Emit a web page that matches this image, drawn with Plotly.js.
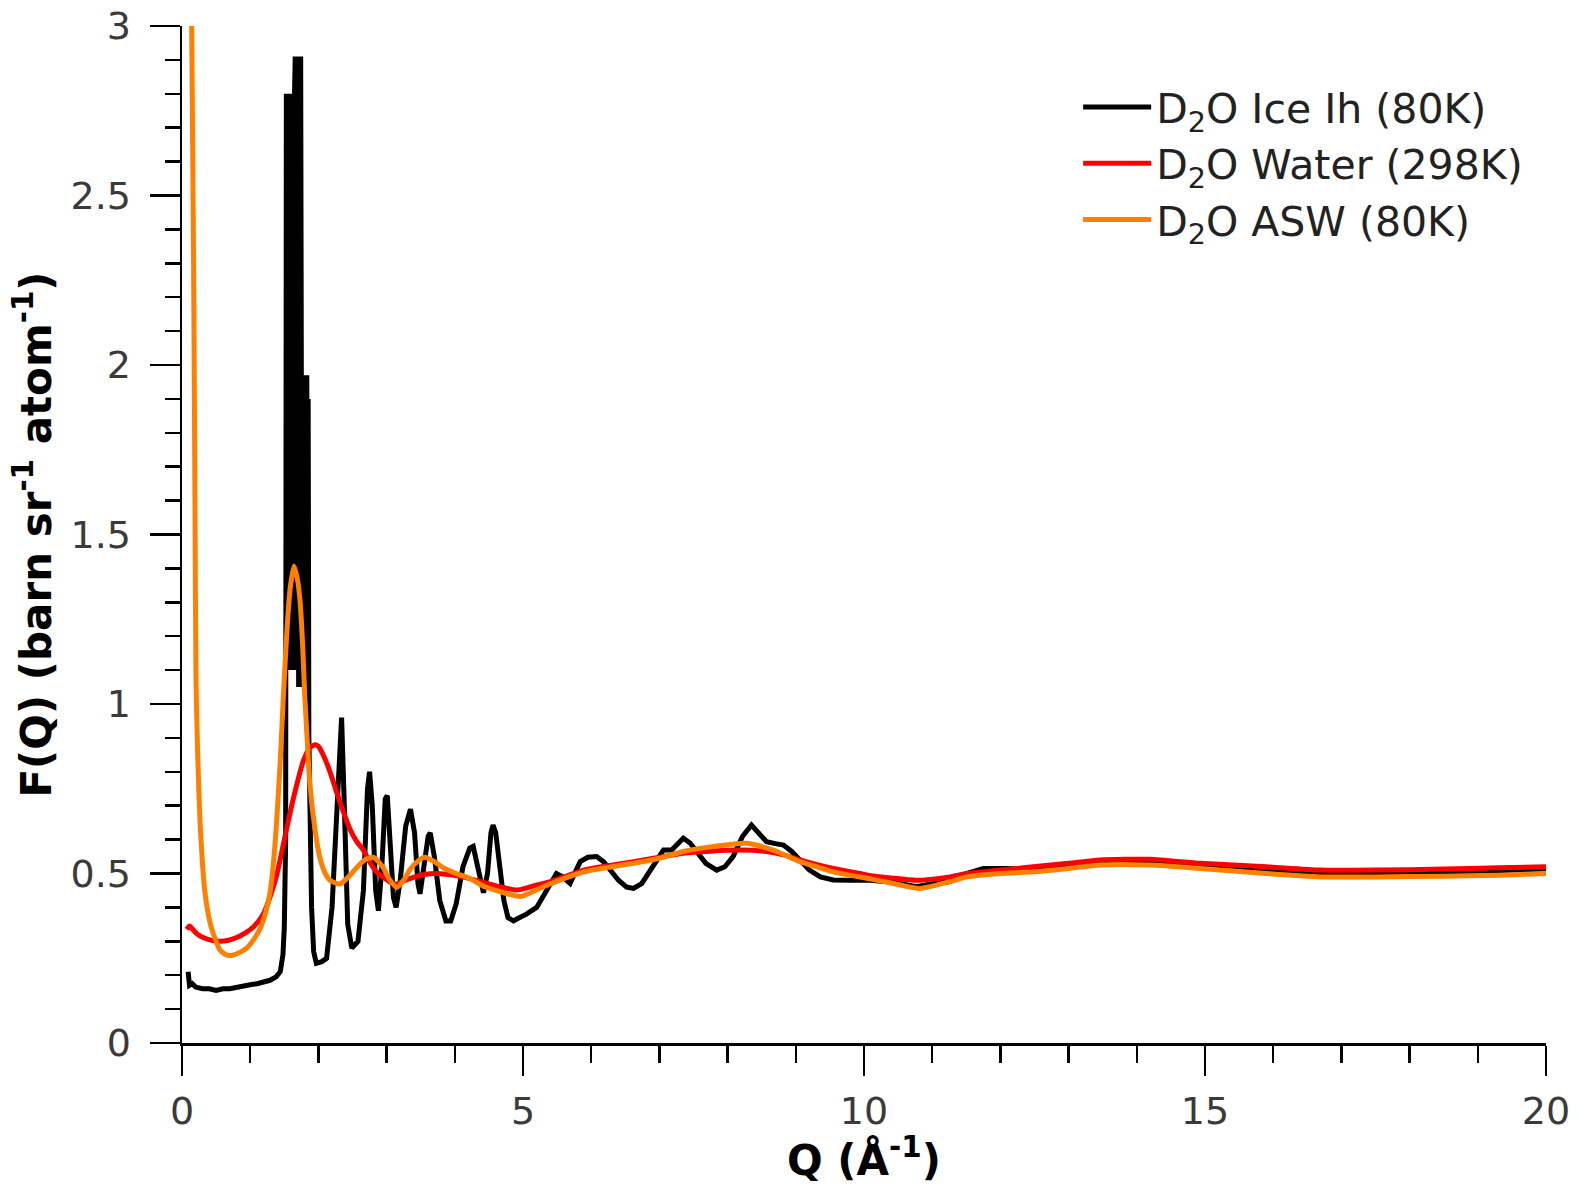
<!DOCTYPE html>
<html>
<head>
<meta charset="utf-8">
<script src="https://cdn.plot.ly/plotly-3.0.1.min.js"></script>
<style>html,body{margin:0;padding:0;background:#fff;}#chart{width:1578px;height:1185px;}</style>
</head>
<body>
<div id="chart"></div>
<script>
// D2O Ice Ih (80K)
const iceQ = [0.09,0.11,0.15,0.20,0.30,0.40,0.50,0.60,0.70,0.80,0.90,1.00,1.10,1.20,1.29,1.38,1.44,1.48,1.50,1.52,
  1.53,1.54,1.55,1.56,1.57,1.58,1.59,1.60,1.61,1.62,1.63,1.64,1.65,1.66,1.67,1.68,1.69,1.70,1.71,1.72,1.73,1.74,1.75,1.76,1.77,1.78,1.79,1.80,1.81,1.82,1.83,1.84,1.85,1.86,1.88,1.90,1.93,1.97,
  2.05,2.12,2.20,2.28,2.34,2.38,2.43,2.49,2.58,2.66,2.72,2.75,2.79,2.84,2.88,2.93,2.98,3.01,3.05,3.10,3.14,3.20,3.28,3.35,3.41,3.46,3.49,3.55,3.61,3.64,3.70,3.78,3.87,3.94,
  4.02,4.12,4.22,4.27,4.34,4.42,4.48,4.53,4.56,4.60,4.66,4.72,4.78,4.86,4.93,5.05,5.20,5.35,5.49,5.58,5.69,5.78,5.84,5.95,6.08,6.18,6.28,6.40,6.52,6.62,6.74,6.86,6.96,
  7.06,7.18,7.26,7.35,7.45,7.55,7.68,7.84,7.96,8.08,8.22,8.35,8.46,8.57,8.70,8.82,8.94,9.06,9.20,9.36,9.55,9.80,10.04,10.40,10.77,11.00,11.26,11.50,11.75,12.10,12.50,
  13.00,13.50,14.20,15.00,16.00,17.00,18.00,19.00,20.00];
const iceF = [0.21,0.17,0.175,0.165,0.16,0.16,0.155,0.16,0.16,0.165,0.17,0.172,0.175,0.18,0.185,0.195,0.21,0.26,0.34,0.60,
  2.80,1.20,2.80,1.10,2.80,1.15,2.80,1.10,2.80,1.20,2.80,1.10,2.80,2.91,1.15,2.91,1.10,2.91,1.05,2.91,1.10,2.91,1.97,1.10,1.97,1.05,1.97,1.10,1.97,1.05,1.97,1.10,1.90,0.90,0.60,0.40,0.27,0.235,
  0.24,0.25,0.40,0.75,0.96,0.70,0.35,0.28,0.30,0.45,0.75,0.80,0.70,0.45,0.39,0.52,0.72,0.73,0.60,0.43,0.40,0.48,0.64,0.69,0.62,0.47,0.44,0.52,0.61,0.62,0.55,0.42,0.36,0.36,
  0.41,0.52,0.575,0.58,0.52,0.443,0.50,0.62,0.643,0.62,0.52,0.42,0.37,0.36,0.368,0.38,0.40,0.45,0.50,0.49,0.471,0.51,0.535,0.548,0.55,0.535,0.51,0.48,0.46,0.456,0.47,0.505,0.54,
  0.569,0.569,0.585,0.604,0.59,0.565,0.53,0.51,0.52,0.55,0.61,0.643,0.62,0.594,0.588,0.584,0.565,0.54,0.51,0.49,0.481,0.48,0.481,0.475,0.461,0.47,0.476,0.50,0.515,0.515,0.51,
  0.52,0.53,0.535,0.525,0.505,0.50,0.50,0.505,0.513];

// D2O Water (298K)
const waterQ = [0.07,0.11,0.16,0.22,0.31,0.45,0.56,0.68,0.80,0.93,1.05,1.19,1.29,1.39,1.48,1.58,1.68,1.78,1.87,1.95,2.00,2.07,2.17,2.27,2.37,2.46,2.56,2.66,2.75,2.85,2.98,3.08,3.15,3.25,3.34,3.50,3.69,3.90,
  4.12,4.40,4.66,4.91,5.15,5.40,5.65,5.89,6.25,6.62,7.00,7.35,7.75,8.18,8.57,8.82,9.06,9.30,9.55,9.80,10.04,10.40,10.77,11.26,11.51,12.00,12.48,13.00,13.46,14.19,14.93,15.90,16.69,17.50,18.50,19.30,20.00];
const waterF = [0.335,0.345,0.335,0.322,0.311,0.302,0.30,0.303,0.311,0.325,0.343,0.38,0.43,0.496,0.58,0.675,0.76,0.833,0.87,0.88,0.875,0.85,0.80,0.738,0.68,0.632,0.595,0.569,0.535,0.505,0.485,0.472,0.469,0.478,0.485,0.495,0.50,0.497,
  0.49,0.475,0.461,0.451,0.463,0.476,0.493,0.51,0.523,0.535,0.548,0.56,0.566,0.569,0.565,0.555,0.54,0.527,0.515,0.505,0.496,0.487,0.48,0.49,0.50,0.51,0.52,0.53,0.54,0.542,0.53,0.52,0.51,0.51,0.513,0.517,0.52];

// D2O ASW (80K)
const aswQ = [0.13,0.142,0.17,0.19,0.205,0.23,0.264,0.30,0.337,0.385,0.435,0.50,0.557,0.63,0.704,0.82,0.948,1.05,1.144,1.22,1.29,1.34,1.388,1.44,1.486,1.54,1.584,1.642,1.69,1.73,1.77,1.80,1.84,1.877,1.95,
  2.02,2.10,2.17,2.317,2.44,2.56,2.68,2.805,2.88,2.95,3.05,3.15,3.25,3.34,3.45,3.56,3.70,3.83,4.02,4.22,4.45,4.66,4.96,5.30,5.60,5.89,6.25,6.62,7.00,7.35,7.80,8.28,8.67,9.06,9.30,9.55,
  10.04,10.40,10.82,11.26,11.51,12.00,12.48,13.00,13.46,14.19,14.93,15.90,16.69,17.50,18.50,19.30,20.00];
const aswF = [3.3,3.0,2.3,1.60,1.075,0.85,0.654,0.53,0.443,0.38,0.337,0.30,0.274,0.262,0.258,0.265,0.28,0.305,0.337,0.38,0.443,0.53,0.654,0.83,1.022,1.22,1.338,1.407,1.37,1.307,1.17,1.022,0.88,0.759,0.63,
  0.548,0.50,0.48,0.469,0.49,0.517,0.54,0.548,0.535,0.517,0.48,0.459,0.48,0.511,0.535,0.548,0.535,0.517,0.50,0.485,0.46,0.447,0.432,0.461,0.485,0.505,0.518,0.53,0.545,0.565,0.58,0.589,0.569,0.535,0.52,0.505,
  0.486,0.472,0.456,0.476,0.49,0.50,0.505,0.515,0.525,0.525,0.515,0.50,0.49,0.49,0.492,0.495,0.50];

const seriesNames = ['D<sub>2</sub>O Ice Ih (80K)', 'D<sub>2</sub>O Water (298K)', 'D<sub>2</sub>O ASW (80K)'];
const seriesColors = ['#000000', '#ff0000', '#ff8000'];

const xTickVals = [0, 5, 10, 15, 20];
const xTickText = ['0', '5', '10', '15', '20'];
const yTickVals = [0, 0.5, 1, 1.5, 2, 2.5, 3];
const yTickText = ['0', '0.5', '1', '1.5', '2', '2.5', '3'];

const data = [
  {x: iceQ, y: iceF, name: seriesNames[0], type: 'scatter', mode: 'lines', line: {color: seriesColors[0], width: 5}},
  {x: waterQ, y: waterF, name: seriesNames[1], type: 'scatter', mode: 'lines', line: {color: seriesColors[1], width: 5, shape: 'spline', smoothing: 0.6}},
  {x: aswQ, y: aswF, name: seriesNames[2], type: 'scatter', mode: 'lines', line: {color: seriesColors[2], width: 5, shape: 'spline', smoothing: 0.6}}
];

const tickFont = {family: 'DejaVu Sans, sans-serif', size: 38, color: '#3a3a3a'};
const titleFont = {family: 'DejaVu Sans, sans-serif', size: 42, color: '#000', weight: 'bold'};

const layout = {
  width: 1578, height: 1185,
  margin: {l: 182, r: 32, t: 26, b: 142},
  paper_bgcolor: '#fff', plot_bgcolor: '#fff',
  showlegend: true,
  legend: {
    x: 0.657, y: 0.953, xanchor: 'left', yanchor: 'top',
    font: {family: 'DejaVu Sans, sans-serif', size: 41, color: '#222'},
    bgcolor: 'rgba(0,0,0,0)', borderwidth: 0, itemwidth: 68, tracegroupgap: 0
  },
  xaxis: {
    range: [0, 20], showgrid: false, zeroline: false,
    showline: true, linecolor: '#000', linewidth: 2.5,
    tickmode: 'array', tickvals: xTickVals, ticktext: xTickText,
    ticks: 'outside', ticklen: 30, tickwidth: 2.5, tickcolor: '#000',
    minor: {dtick: 1, ticks: 'outside', ticklen: 17, tickwidth: 2.5, tickcolor: '#000', showgrid: false},
    tickfont: tickFont, ticklabelstandoff: 3,
    title: {text: 'Q (Å<sup>-1</sup>)', font: titleFont, standoff: 10}
  },
  yaxis: {
    range: [0, 3], showgrid: false, zeroline: false,
    showline: true, linecolor: '#000', linewidth: 2.5,
    tickmode: 'array', tickvals: yTickVals, ticktext: yTickText,
    ticks: 'outside', ticklen: 30, tickwidth: 2.5, tickcolor: '#000',
    minor: {dtick: 0.1, ticks: 'outside', ticklen: 15, tickwidth: 2.5, tickcolor: '#000', showgrid: false},
    tickfont: tickFont, ticklabelstandoff: 11,
    title: {text: 'F(Q) (barn sr<sup>-1</sup> atom<sup>-1</sup>)', font: titleFont, standoff: 6}
  }
};

Plotly.newPlot('chart', data, layout, {displayModeBar: false, staticPlot: true});
</script>
</body>
</html>
